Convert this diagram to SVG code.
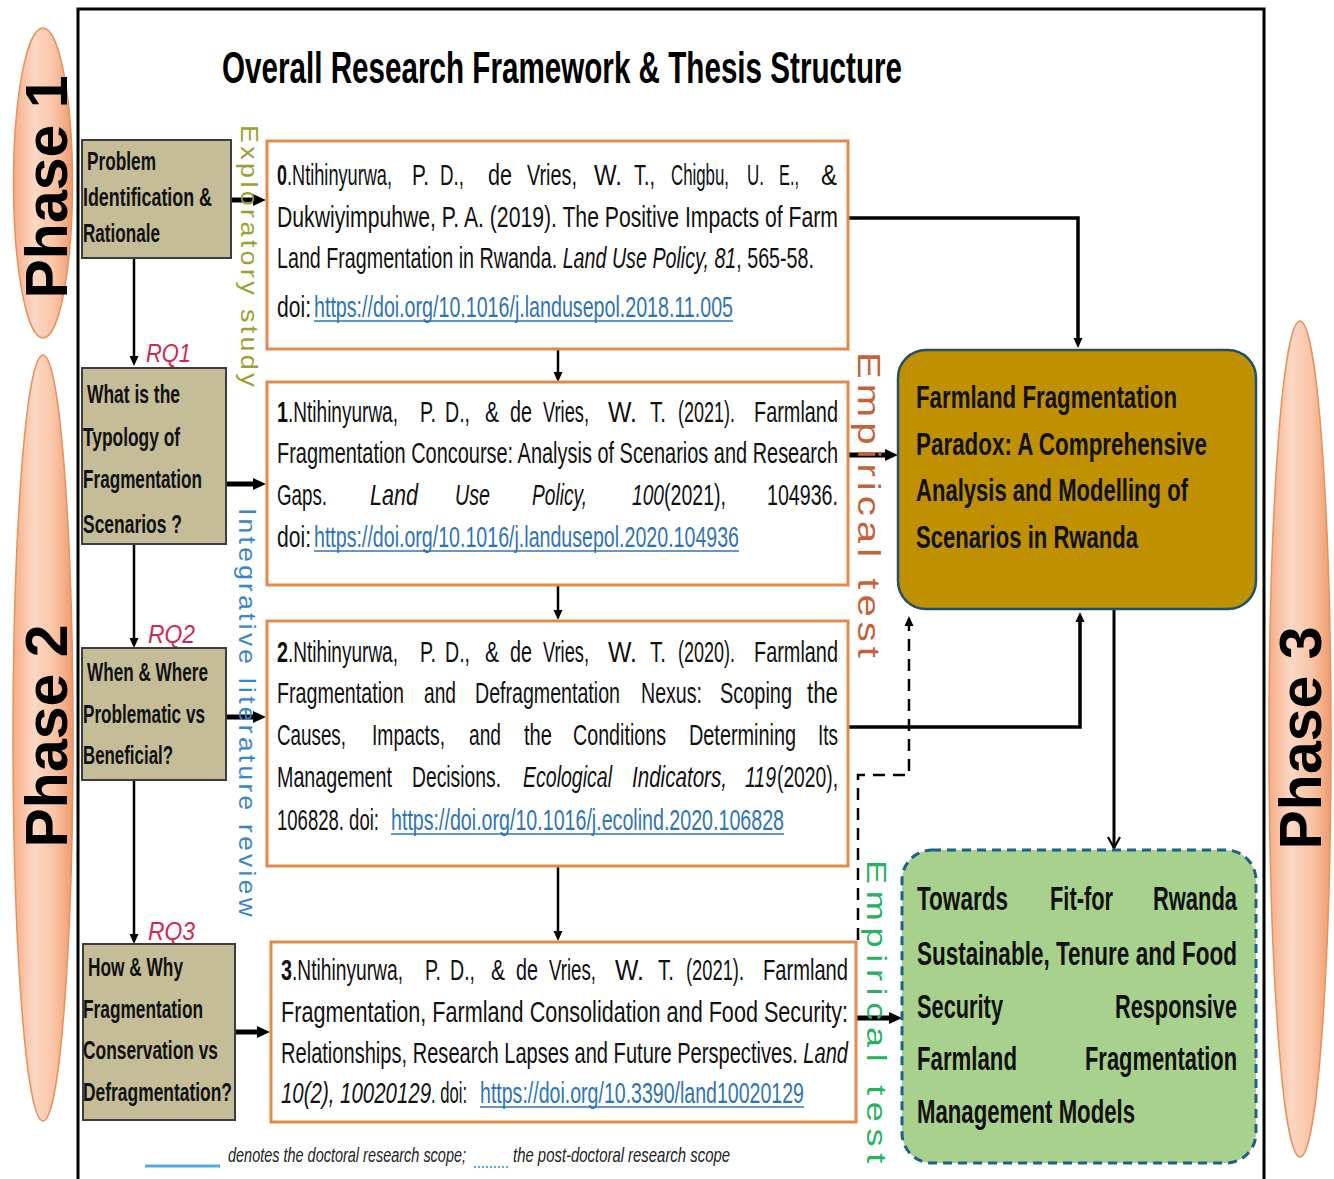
<svg xmlns="http://www.w3.org/2000/svg" width="1334" height="1179" viewBox="0 0 1334 1179">
  <defs>
    <style>
      .n { font-family: "Liberation Sans Narrow", "Liberation Sans", Arial, sans-serif; }
      .ref { font-size: 29px; fill: #111; }
      .q { font-size: 25px; font-weight: bold; fill: #111; }
      .it { font-style: italic; }
      .b { font-weight: bold; }
      .lnk { fill: #2e74b5; }
      .ul { stroke: #2e74b5; stroke-width: 1.4; }
      .rq { font-size: 25px; font-style: italic; fill: #cc2a54; }
      .ph { font-family: "Liberation Sans", Arial, sans-serif; font-size: 59px; font-weight: bold; fill: #000; }
      .lab { font-family: "Liberation Sans", Arial, sans-serif; }
      .qbox { fill: #c4bd97; stroke: #3d3d3d; stroke-width: 2; }
      .rbox { fill: #fff; stroke: #e2894b; stroke-width: 3; }
      .phase { fill: url(#peach); stroke: #e6925f; stroke-width: 1.5; }
      .big { font-size: 31px; font-weight: bold; fill: #111; }
      .grn { font-size: 33px; font-weight: bold; fill: #111; }
      .c { fill: none; stroke: #000; }
    </style>
    <linearGradient id="peach" x1="0" y1="0" x2="1" y2="0">
      <stop offset="0" stop-color="#f5ac86"/>
      <stop offset="0.35" stop-color="#fcd8c4"/>
      <stop offset="0.7" stop-color="#f9c3a4"/>
      <stop offset="1" stop-color="#ef9a6c"/>
    </linearGradient>
    <marker id="ah" markerUnits="userSpaceOnUse" markerWidth="14" markerHeight="14" viewBox="0 0 14 14" refX="3" refY="7" orient="auto">
      <path d="M0,1 L13,7 L0,13 Z" fill="#000"/>
    </marker>
    <marker id="as" markerUnits="userSpaceOnUse" markerWidth="11" markerHeight="11" viewBox="0 0 11 11" refX="2" refY="5.5" orient="auto">
      <path d="M0,1 L10,5.5 L0,10 Z" fill="#000"/>
    </marker>
    <marker id="av" markerUnits="userSpaceOnUse" markerWidth="14" markerHeight="14" viewBox="0 0 14 14" refX="12" refY="7" orient="auto">
      <path d="M1,1 L12,7 L1,13" fill="none" stroke="#000" stroke-width="2.2"/>
    </marker>
  </defs>

  <rect width="1334" height="1179" fill="#fff"/>

  <!-- outer frame, open at the bottom -->
  <path d="M78,1179 V9 H1264 V1179" fill="none" stroke="#000" stroke-width="3"/>

  <text class="n b" x="222" y="83" font-size="45" textLength="680" lengthAdjust="spacingAndGlyphs">Overall Research Framework &amp; Thesis Structure</text>

  <!-- phase bands -->
  <g id="phase1">
    <ellipse class="phase" cx="43" cy="183" rx="29.5" ry="155"/>
    <text class="ph" transform="translate(67,187) rotate(-90)" text-anchor="middle">Phase 1</text>
  </g>
  <g id="phase2">
    <ellipse class="phase" cx="43" cy="738" rx="30" ry="383"/>
    <text class="ph" transform="translate(67,736) rotate(-90)" text-anchor="middle">Phase 2</text>
  </g>
  <g id="phase3">
    <ellipse class="phase" cx="1300" cy="739" rx="31" ry="418"/>
    <text class="ph" transform="translate(1321,738) rotate(-90)" text-anchor="middle">Phase 3</text>
  </g>

  <!-- connectors -->
  <g id="connectors">
    <path class="c" d="M134,258 V358" stroke-width="2.5" marker-end="url(#as)"/>
    <path class="c" d="M134,544 V640" stroke-width="2.5" marker-end="url(#as)"/>
    <path class="c" d="M134,780 V936" stroke-width="2.5" marker-end="url(#as)"/>
    <path class="c" d="M231,200 H256" stroke-width="5" marker-end="url(#ah)"/>
    <path class="c" d="M226,484 H256" stroke-width="5" marker-end="url(#ah)"/>
    <path class="c" d="M226,717 H256" stroke-width="5" marker-end="url(#ah)"/>
    <path class="c" d="M235,1032 H260" stroke-width="5" marker-end="url(#ah)"/>
    <path class="c" d="M558,350 V374" stroke-width="2.5" marker-end="url(#as)"/>
    <path class="c" d="M558,585 V612" stroke-width="2.5" marker-end="url(#as)"/>
    <path class="c" d="M558,867 V933" stroke-width="2.5" marker-end="url(#as)"/>
    <path class="c" d="M848,218 H1078 V340" stroke-width="3.5" marker-end="url(#as)"/>
    <path class="c" d="M848,455 H888" stroke-width="5" marker-end="url(#ah)"/>
    <path class="c" d="M848,727 H1080 V620" stroke-width="3.5" marker-end="url(#as)"/>
    <path class="c" d="M1114,609 V848" stroke-width="3" marker-end="url(#av)"/>
    <path class="c" d="M856,1018 H892" stroke-width="5" marker-end="url(#ah)"/>
    <path class="c" d="M858,940 V775 H909 V624" stroke-width="2.5" stroke-dasharray="12 8" marker-end="url(#as)"/>
  </g>

  <!-- rotated study-type labels -->
  <text class="lab" transform="translate(241,125) rotate(90)" font-size="24" letter-spacing="3" fill="#9c9f2e" textLength="265" lengthAdjust="spacingAndGlyphs">Exploratory study</text>
  <text class="lab" transform="translate(239,508) rotate(90)" font-size="24" letter-spacing="3" fill="#3a85c8" textLength="412" lengthAdjust="spacingAndGlyphs">Integrative literature review</text>
  <text class="lab" transform="translate(858,352) rotate(90)" font-size="32" letter-spacing="4" fill="#c5623a" textLength="311" lengthAdjust="spacingAndGlyphs">Empirical test</text>
  <text class="lab" transform="translate(867,860) rotate(90)" font-size="27" letter-spacing="5" fill="#27b263" textLength="310" lengthAdjust="spacingAndGlyphs">Empirical test</text>

  <!-- research questions -->
  <text class="n rq" x="146" y="362" textLength="45" lengthAdjust="spacingAndGlyphs">RQ1</text>
  <text class="n rq" x="148" y="643" textLength="47" lengthAdjust="spacingAndGlyphs">RQ2</text>
  <text class="n rq" x="148" y="940" textLength="47" lengthAdjust="spacingAndGlyphs">RQ3</text>

  <g id="q-problem">
    <rect class="qbox" x="82" y="140" width="149" height="118"/>
    <text class="n q" x="87" y="170" textLength="69" lengthAdjust="spacingAndGlyphs">Problem</text>
    <text class="n q" x="83" y="206" textLength="129" lengthAdjust="spacingAndGlyphs">Identification &amp;</text>
    <text class="n q" x="83" y="242" textLength="77" lengthAdjust="spacingAndGlyphs">Rationale</text>
  </g>
  <g id="q-rq1">
    <rect class="qbox" x="82" y="368" width="144" height="176"/>
    <text class="n q" x="87" y="403" textLength="93" lengthAdjust="spacingAndGlyphs">What is the</text>
    <text class="n q" x="83" y="446" textLength="97" lengthAdjust="spacingAndGlyphs">Typology of</text>
    <text class="n q" x="83" y="488" textLength="119" lengthAdjust="spacingAndGlyphs">Fragmentation</text>
    <text class="n q" x="83" y="533" textLength="99" lengthAdjust="spacingAndGlyphs">Scenarios ?</text>
  </g>
  <g id="q-rq2">
    <rect class="qbox" x="82" y="648" width="144" height="132"/>
    <text class="n q" x="87" y="681" textLength="121" lengthAdjust="spacingAndGlyphs">When &amp; Where</text>
    <text class="n q" x="83" y="723" textLength="122" lengthAdjust="spacingAndGlyphs">Problematic vs</text>
    <text class="n q" x="83" y="764" textLength="90" lengthAdjust="spacingAndGlyphs">Beneficial?</text>
  </g>
  <g id="q-rq3">
    <rect class="qbox" x="83" y="944" width="152" height="176"/>
    <text class="n q" x="88" y="976" textLength="95" lengthAdjust="spacingAndGlyphs">How &amp; Why</text>
    <text class="n q" x="83" y="1018" textLength="120" lengthAdjust="spacingAndGlyphs">Fragmentation</text>
    <text class="n q" x="83" y="1059" textLength="135" lengthAdjust="spacingAndGlyphs">Conservation vs</text>
    <text class="n q" x="83" y="1101" textLength="149" lengthAdjust="spacingAndGlyphs">Defragmentation?</text>
  </g>

  <g id="paper0">
    <rect class="rbox" x="267" y="141" width="581" height="208"/>
    <text class="n ref" y="185"><tspan class="b" x="277" textLength="10" lengthAdjust="spacingAndGlyphs">0</tspan><tspan x="287" textLength="105" lengthAdjust="spacingAndGlyphs">.Ntihinyurwa,</tspan><tspan x="412" textLength="17" lengthAdjust="spacingAndGlyphs">P.</tspan><tspan x="440" textLength="24" lengthAdjust="spacingAndGlyphs">D.,</tspan><tspan x="488" textLength="24" lengthAdjust="spacingAndGlyphs">de</tspan><tspan x="527" textLength="50" lengthAdjust="spacingAndGlyphs">Vries,</tspan><tspan x="594" textLength="28" lengthAdjust="spacingAndGlyphs">W.</tspan><tspan x="634" textLength="21" lengthAdjust="spacingAndGlyphs">T.,</tspan><tspan x="671" textLength="58" lengthAdjust="spacingAndGlyphs">Chigbu,</tspan><tspan x="747" textLength="17" lengthAdjust="spacingAndGlyphs">U.</tspan><tspan x="779" textLength="20" lengthAdjust="spacingAndGlyphs">E.,</tspan><tspan x="821" textLength="16" lengthAdjust="spacingAndGlyphs">&amp;</tspan></text>
    <text class="n ref" x="277" y="227" textLength="561" lengthAdjust="spacingAndGlyphs">Dukwiyimpuhwe, P. A. (2019). The Positive Impacts of Farm</text>
    <text class="n ref" x="277" y="268" textLength="537" lengthAdjust="spacingAndGlyphs">Land Fragmentation in Rwanda. <tspan class="it">Land Use Policy, 81</tspan>, 565-58.</text>
    <text class="n ref" y="317"><tspan x="277" textLength="34" lengthAdjust="spacingAndGlyphs">doi:</tspan><tspan class="lnk" x="314" textLength="419" lengthAdjust="spacingAndGlyphs">https://doi.org/10.1016/j.landusepol.2018.11.005</tspan></text>
    <line class="ul" x1="314" y1="321" x2="733" y2="321"/>
  </g>

  <g id="paper1">
    <rect class="rbox" x="267" y="382" width="581" height="203"/>
    <text class="n ref" y="422"><tspan class="b" x="277" textLength="11" lengthAdjust="spacingAndGlyphs">1</tspan><tspan x="288" textLength="110" lengthAdjust="spacingAndGlyphs">.Ntihinyurwa,</tspan><tspan x="420" textLength="16" lengthAdjust="spacingAndGlyphs">P.</tspan><tspan x="445" textLength="25" lengthAdjust="spacingAndGlyphs">D.,</tspan><tspan x="485" textLength="14" lengthAdjust="spacingAndGlyphs">&amp;</tspan><tspan x="510" textLength="22" lengthAdjust="spacingAndGlyphs">de</tspan><tspan x="543" textLength="46" lengthAdjust="spacingAndGlyphs">Vries,</tspan><tspan x="608" textLength="29" lengthAdjust="spacingAndGlyphs">W.</tspan><tspan x="650" textLength="16" lengthAdjust="spacingAndGlyphs">T.</tspan><tspan x="678" textLength="57" lengthAdjust="spacingAndGlyphs">(2021).</tspan><tspan x="754" textLength="84" lengthAdjust="spacingAndGlyphs">Farmland</tspan></text>
    <text class="n ref" x="277" y="463" textLength="561" lengthAdjust="spacingAndGlyphs">Fragmentation Concourse: Analysis of Scenarios and Research</text>
    <text class="n ref" y="505"><tspan x="277" textLength="50" lengthAdjust="spacingAndGlyphs">Gaps.</tspan><tspan class="it" x="370" textLength="48" lengthAdjust="spacingAndGlyphs">Land</tspan><tspan class="it" x="455" textLength="35" lengthAdjust="spacingAndGlyphs">Use</tspan><tspan class="it" x="532" textLength="55" lengthAdjust="spacingAndGlyphs">Policy,</tspan><tspan class="it" x="632" textLength="32" lengthAdjust="spacingAndGlyphs">100</tspan><tspan x="664" textLength="62" lengthAdjust="spacingAndGlyphs">(2021),</tspan><tspan x="767" textLength="71" lengthAdjust="spacingAndGlyphs">104936.</tspan></text>
    <text class="n ref" y="547"><tspan x="277" textLength="34" lengthAdjust="spacingAndGlyphs">doi:</tspan><tspan class="lnk" x="314" textLength="425" lengthAdjust="spacingAndGlyphs">https://doi.org/10.1016/j.landusepol.2020.104936</tspan></text>
    <line class="ul" x1="314" y1="551" x2="739" y2="551"/>
  </g>

  <g id="paper2">
    <rect class="rbox" x="267" y="621" width="581" height="245"/>
    <text class="n ref" y="662"><tspan class="b" x="277" textLength="11" lengthAdjust="spacingAndGlyphs">2</tspan><tspan x="288" textLength="110" lengthAdjust="spacingAndGlyphs">.Ntihinyurwa,</tspan><tspan x="420" textLength="16" lengthAdjust="spacingAndGlyphs">P.</tspan><tspan x="445" textLength="25" lengthAdjust="spacingAndGlyphs">D.,</tspan><tspan x="485" textLength="14" lengthAdjust="spacingAndGlyphs">&amp;</tspan><tspan x="510" textLength="22" lengthAdjust="spacingAndGlyphs">de</tspan><tspan x="543" textLength="46" lengthAdjust="spacingAndGlyphs">Vries,</tspan><tspan x="608" textLength="29" lengthAdjust="spacingAndGlyphs">W.</tspan><tspan x="650" textLength="16" lengthAdjust="spacingAndGlyphs">T.</tspan><tspan x="678" textLength="57" lengthAdjust="spacingAndGlyphs">(2020).</tspan><tspan x="754" textLength="84" lengthAdjust="spacingAndGlyphs">Farmland</tspan></text>
    <text class="n ref" y="703"><tspan x="277" textLength="127" lengthAdjust="spacingAndGlyphs">Fragmentation</tspan><tspan x="424" textLength="32" lengthAdjust="spacingAndGlyphs">and</tspan><tspan x="475" textLength="145" lengthAdjust="spacingAndGlyphs">Defragmentation</tspan><tspan x="641" textLength="61" lengthAdjust="spacingAndGlyphs">Nexus:</tspan><tspan x="720" textLength="72" lengthAdjust="spacingAndGlyphs">Scoping</tspan><tspan x="807" textLength="31" lengthAdjust="spacingAndGlyphs">the</tspan></text>
    <text class="n ref" y="745"><tspan x="277" textLength="69" lengthAdjust="spacingAndGlyphs">Causes,</tspan><tspan x="372" textLength="73" lengthAdjust="spacingAndGlyphs">Impacts,</tspan><tspan x="469" textLength="32" lengthAdjust="spacingAndGlyphs">and</tspan><tspan x="524" textLength="28" lengthAdjust="spacingAndGlyphs">the</tspan><tspan x="573" textLength="93" lengthAdjust="spacingAndGlyphs">Conditions</tspan><tspan x="689" textLength="107" lengthAdjust="spacingAndGlyphs">Determining</tspan><tspan x="818" textLength="20" lengthAdjust="spacingAndGlyphs">Its</tspan></text>
    <text class="n ref" y="787"><tspan x="277" textLength="115" lengthAdjust="spacingAndGlyphs">Management</tspan><tspan x="412" textLength="89" lengthAdjust="spacingAndGlyphs">Decisions.</tspan><tspan class="it" x="523" textLength="89" lengthAdjust="spacingAndGlyphs">Ecological</tspan><tspan class="it" x="632" textLength="95" lengthAdjust="spacingAndGlyphs">Indicators,</tspan><tspan class="it" x="745" textLength="31" lengthAdjust="spacingAndGlyphs">119</tspan><tspan x="777" textLength="61" lengthAdjust="spacingAndGlyphs">(2020),</tspan></text>
    <text class="n ref" y="830"><tspan x="277" textLength="102" lengthAdjust="spacingAndGlyphs">106828. doi:</tspan><tspan class="lnk" x="391" textLength="393" lengthAdjust="spacingAndGlyphs">https://doi.org/10.1016/j.ecolind.2020.106828</tspan></text>
    <line class="ul" x1="391" y1="834" x2="784" y2="834"/>
  </g>

  <g id="paper3">
    <rect class="rbox" x="271" y="942" width="585" height="180"/>
    <text class="n ref" y="980"><tspan class="b" x="281" textLength="11" lengthAdjust="spacingAndGlyphs">3</tspan><tspan x="292" textLength="111" lengthAdjust="spacingAndGlyphs">.Ntihinyurwa,</tspan><tspan x="425" textLength="16" lengthAdjust="spacingAndGlyphs">P.</tspan><tspan x="450" textLength="25" lengthAdjust="spacingAndGlyphs">D.,</tspan><tspan x="491" textLength="14" lengthAdjust="spacingAndGlyphs">&amp;</tspan><tspan x="516" textLength="22" lengthAdjust="spacingAndGlyphs">de</tspan><tspan x="549" textLength="47" lengthAdjust="spacingAndGlyphs">Vries,</tspan><tspan x="615" textLength="29" lengthAdjust="spacingAndGlyphs">W.</tspan><tspan x="658" textLength="16" lengthAdjust="spacingAndGlyphs">T.</tspan><tspan x="686" textLength="58" lengthAdjust="spacingAndGlyphs">(2021).</tspan><tspan x="763" textLength="85" lengthAdjust="spacingAndGlyphs">Farmland</tspan></text>
    <text class="n ref" x="281" y="1022" textLength="567" lengthAdjust="spacingAndGlyphs">Fragmentation, Farmland Consolidation and Food Security:</text>
    <text class="n ref" x="281" y="1063" textLength="567" lengthAdjust="spacingAndGlyphs">Relationships, Research Lapses and Future Perspectives. <tspan class="it">Land</tspan></text>
    <text class="n ref" y="1103"><tspan class="it" x="281" textLength="150" lengthAdjust="spacingAndGlyphs">10(2), 10020129</tspan><tspan x="431" textLength="36" lengthAdjust="spacingAndGlyphs">. doi:</tspan><tspan class="lnk" x="480" textLength="324" lengthAdjust="spacingAndGlyphs">https://doi.org/10.3390/land10020129</tspan></text>
    <line class="ul" x1="480" y1="1107" x2="804" y2="1107"/>
  </g>

  <g id="paradox">
    <rect x="898" y="350" width="358" height="259" rx="28" fill="#bf9000" stroke="#22506a" stroke-width="2.5"/>
    <text class="n big" x="916" y="408" textLength="261" lengthAdjust="spacingAndGlyphs">Farmland Fragmentation</text>
    <text class="n big" x="916" y="455" textLength="291" lengthAdjust="spacingAndGlyphs">Paradox: A Comprehensive</text>
    <text class="n big" x="916" y="501" textLength="272" lengthAdjust="spacingAndGlyphs">Analysis and Modelling of</text>
    <text class="n big" x="916" y="548" textLength="222" lengthAdjust="spacingAndGlyphs">Scenarios in Rwanda</text>
  </g>

  <g id="models">
    <rect x="902" y="850" width="354" height="313" rx="30" fill="#a9d18e" stroke="#1f5f8b" stroke-width="3" stroke-dasharray="9 6"/>
    <text class="n grn" y="910"><tspan x="917" textLength="91" lengthAdjust="spacingAndGlyphs">Towards</tspan><tspan x="1050" textLength="63" lengthAdjust="spacingAndGlyphs">Fit-for</tspan><tspan x="1153" textLength="84" lengthAdjust="spacingAndGlyphs">Rwanda</tspan></text>
    <text class="n grn" x="917" y="965" textLength="320" lengthAdjust="spacingAndGlyphs">Sustainable, Tenure and Food</text>
    <text class="n grn" y="1018"><tspan x="917" textLength="86" lengthAdjust="spacingAndGlyphs">Security</tspan><tspan x="1115" textLength="122" lengthAdjust="spacingAndGlyphs">Responsive</tspan></text>
    <text class="n grn" y="1070"><tspan x="917" textLength="100" lengthAdjust="spacingAndGlyphs">Farmland</tspan><tspan x="1085" textLength="152" lengthAdjust="spacingAndGlyphs">Fragmentation</tspan></text>
    <text class="n grn" x="917" y="1123" textLength="218" lengthAdjust="spacingAndGlyphs">Management Models</text>
  </g>

  <!-- key -->
  <g id="key">
    <line x1="145" y1="1166" x2="220" y2="1166" stroke="#4aaee0" stroke-width="3"/>
    <text class="n it" x="228" y="1162" font-size="21" fill="#222" textLength="238" lengthAdjust="spacingAndGlyphs">denotes the doctoral research scope;</text>
    <line x1="474" y1="1167" x2="508" y2="1167" stroke="#4aaee0" stroke-width="2" stroke-dasharray="2 2"/>
    <text class="n it" x="513" y="1162" font-size="21" fill="#222" textLength="217" lengthAdjust="spacingAndGlyphs">the post-doctoral research scope</text>
  </g>
</svg>
